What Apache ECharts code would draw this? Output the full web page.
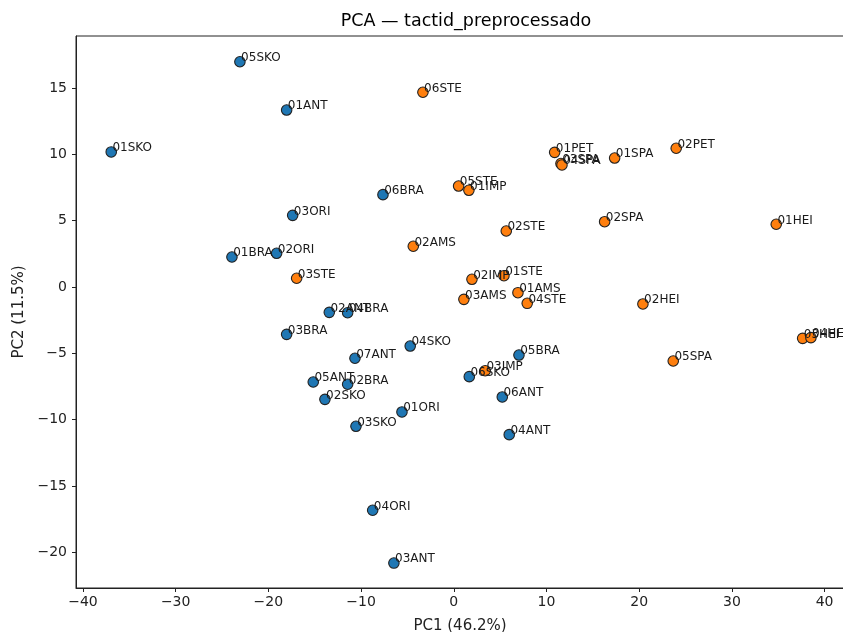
<!DOCTYPE html>
<html>
<head>
<meta charset="utf-8">
<title>PCA — tactid_preprocessado</title>
<script src="https://cdn.jsdelivr.net/npm/echarts@6/dist/echarts.min.js"></script>
<style>
  html, body { margin: 0; padding: 0; background: #ffffff; }
  #chart { width: 843px; height: 632px; }
</style>
</head>
<body>
<div id="chart"></div>
<script>
// Sample scores on the first two principal components, split by cluster.
const cluster0Names = ['05SKO', '01ANT', '01SKO', '06BRA', '03ORI', '01BRA', '02ORI', '02ANT', '04BRA',
  '03BRA', '04SKO', '07ANT', '05ANT', '02BRA', '02SKO', '01ORI', '03SKO', '05BRA', '06SKO',
  '06ANT', '04ANT', '04ORI', '03ANT'];
const cluster0PC1 = [-23.07, -18.03, -36.95, -7.64, -17.38, -23.93, -19.11, -13.43, -11.45,
  -18.03, -4.70, -10.66, -15.16, -11.45, -13.90, -5.59, -10.55, 7.03, 1.67,
  5.23, 5.98, -8.75, -6.46];
const cluster0PC2 = [16.98, 13.34, 10.18, 6.96, 5.40, 2.26, 2.54, -1.91, -1.94,
  -3.57, -4.45, -5.37, -7.16, -7.33, -8.47, -9.42, -10.50, -5.13, -6.76,
  -8.29, -11.13, -16.83, -20.81];

const cluster1Names = ['06STE', '01PET', '03SPA', '04SPA', '01SPA', '02PET', '05STE', '01IMP', '02AMS',
  '02STE', '02SPA', '01HEI', '03STE', '02IMP', '01STE', '03AMS', '01AMS', '04STE', '02HEI',
  '05SPA', '03HEI', '04HEI', '03IMP'];
const cluster1PC1 = [-3.33, 10.88, 11.56, 11.67, 17.35, 23.99, 0.52, 1.63, -4.37,
  5.66, 16.27, 34.78, -16.95, 1.96, 5.41, 1.09, 6.92, 7.92, 20.40,
  23.67, 37.63, 38.52, 3.39];
const cluster1PC2 = [14.68, 10.15, 9.31, 9.20, 9.72, 10.46, 7.61, 7.29, 3.07,
  4.22, 4.92, 4.73, 0.66, 0.58, 0.85, -0.93, -0.43, -1.23, -1.28,
  -5.58, -3.87, -3.82, -6.31];

// Tick positions on both axes
const pc1Ticks = [-40, -30, -20, -10, 0, 10, 20, 30, 40];
const pc2Ticks = [-20, -15, -10, -5, 0, 5, 10, 15];

const FONT = 'DejaVu Sans';
const INK = '#222222';

function toPoints(names, xs, ys) {
  return names.map((n, i) => ({ name: n, value: [xs[i], ys[i]] }));
}

function scatterSeries(name, color, names, xs, ys) {
  return {
    name: name,
    type: 'scatter',
    symbol: 'circle',
    symbolSize: 10.5,
    itemStyle: { color: color, borderColor: INK, borderWidth: 1.1, opacity: 1 },
    label: {
      show: true,
      formatter: '{b}',
      position: [7, 8],
      align: 'left',
      verticalAlign: 'bottom',
      fontFamily: FONT,
      fontSize: 12,
      color: '#1a1a1a'
    },
    labelLayout: { hideOverlap: false },
    emphasis: { disabled: true },
    data: toPoints(names, xs, ys)
  };
}

const chart = echarts.init(document.getElementById('chart'), null, { renderer: 'canvas' });

chart.setOption({
  animation: false,
  backgroundColor: '#ffffff',
  title: {
    text: 'PCA — tactid_preprocessado',
    left: 461,
    top: 7,
    textAlign: 'center',
    textStyle: { fontFamily: FONT, fontSize: 17.5, fontWeight: 'normal', color: '#000' }
  },
  grid: {
    left: 76,
    right: -1,
    top: 36,
    bottom: 44,
    outerBoundsMode: 'none',
    containLabel: false,
    show: true,
    borderColor: INK,
    borderWidth: 1,
    backgroundColor: 'transparent'
  },
  xAxis: {
    type: 'value',
    min: -40.75,
    max: 42.09,
    name: 'PC1 (46.2%)',
    nameLocation: 'middle',
    nameGap: 31,
    nameTextStyle: { fontFamily: FONT, fontSize: 15, color: INK },
    axisLine: { show: true, onZero: false, lineStyle: { color: INK, width: 1 } },
    axisTick: { show: true, inside: false, length: 4, customValues: pc1Ticks, lineStyle: { color: INK } },
    axisLabel: {
      customValues: pc1Ticks,
      margin: 7,
      fontFamily: FONT,
      fontSize: 14,
      color: INK,
      formatter: v => (v < 0 ? '\u2212' + Math.abs(v) : String(v))
    },
    splitLine: { show: false }
  },
  yAxis: {
    type: 'value',
    min: -22.69,
    max: 18.92,
    name: 'PC2 (11.5%)',
    nameLocation: 'middle',
    nameGap: 45,
    nameTextStyle: { fontFamily: FONT, fontSize: 15, color: INK },
    axisLine: { show: true, onZero: false, lineStyle: { color: INK, width: 1 } },
    axisTick: { show: true, inside: false, length: 4, customValues: pc2Ticks, lineStyle: { color: INK } },
    axisLabel: {
      customValues: pc2Ticks,
      margin: 9,
      fontFamily: FONT,
      fontSize: 14,
      color: INK,
      formatter: v => (v < 0 ? '\u2212' + Math.abs(v) : String(v))
    },
    splitLine: { show: false }
  },
  series: [
    scatterSeries('cluster 0', '#1f77b4', cluster0Names, cluster0PC1, cluster0PC2),
    scatterSeries('cluster 1', '#ff7f0e', cluster1Names, cluster1PC1, cluster1PC2)
  ]
});
</script>
</body>
</html>
